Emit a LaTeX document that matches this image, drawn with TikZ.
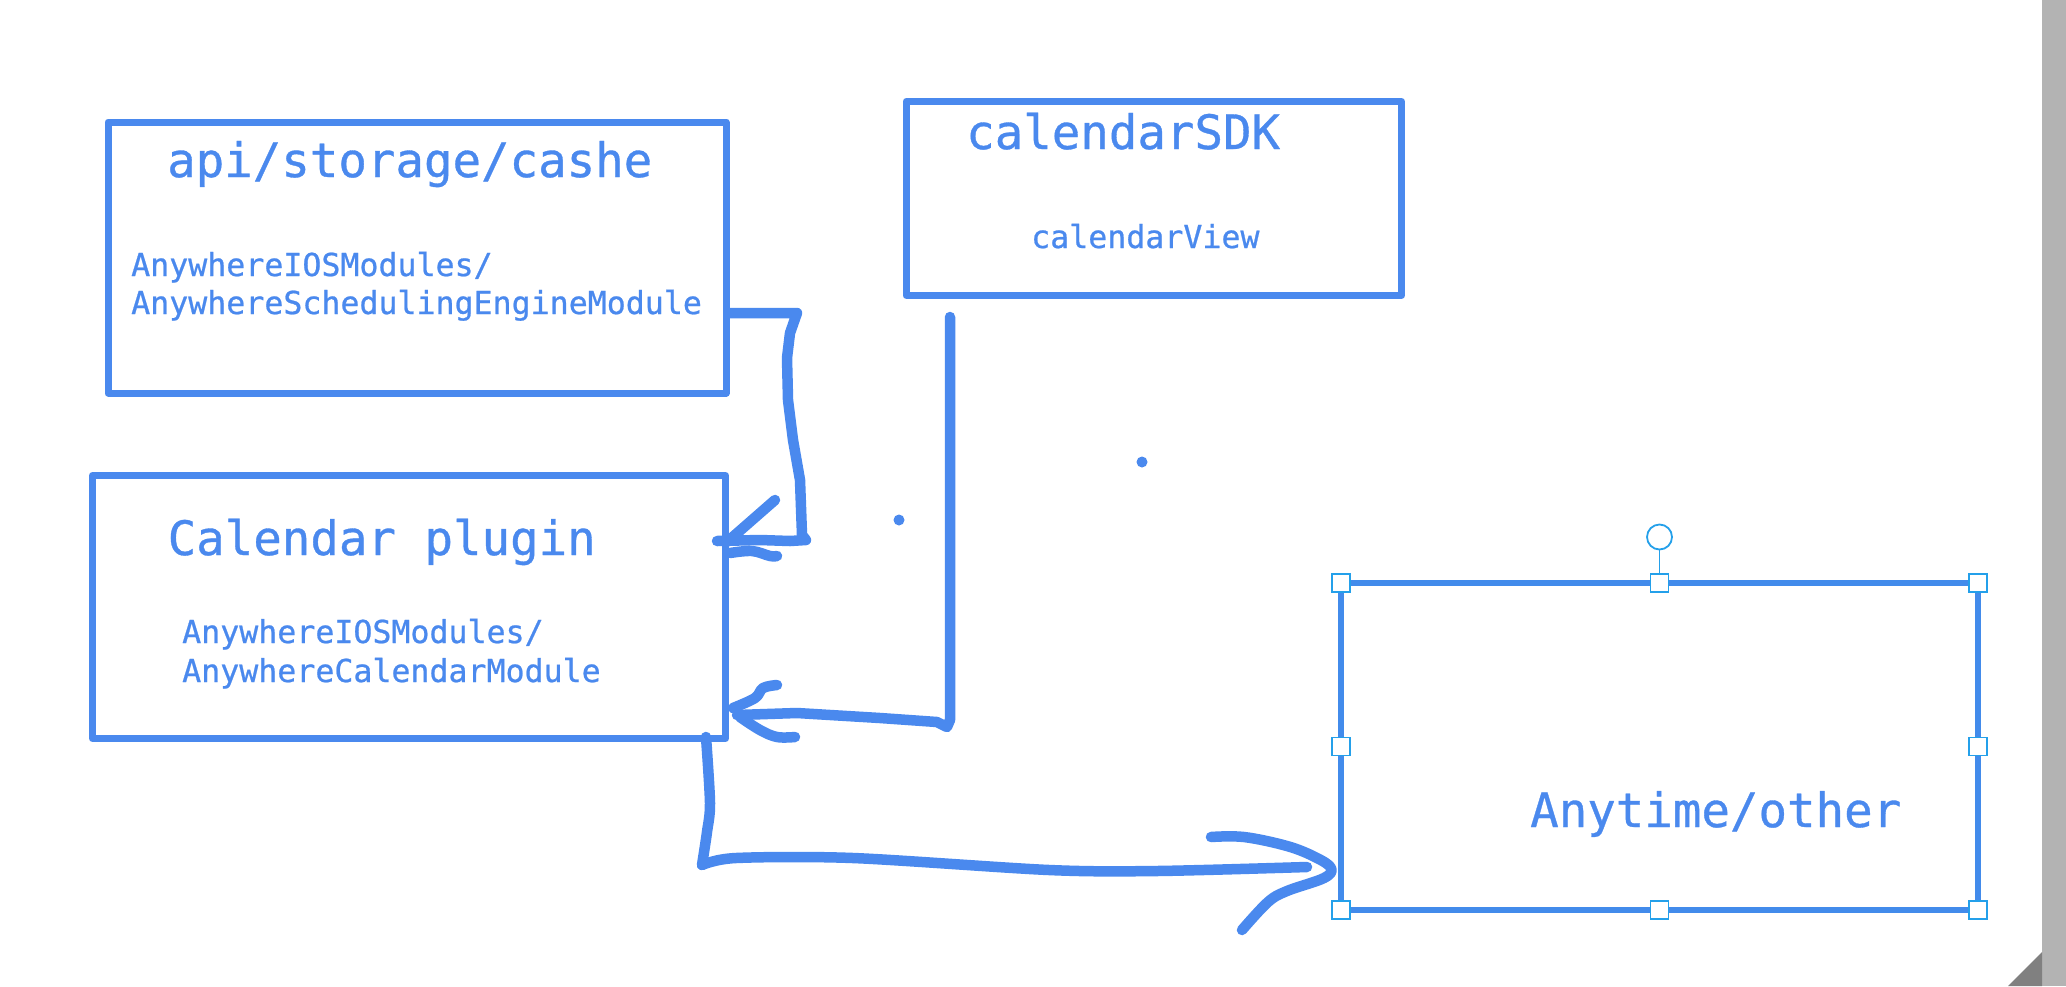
\documentclass[tikz,border=0pt]{standalone}
\usepackage{fontspec}
\newfontfamily\mono{DejaVu Sans Mono}[FakeBold=0.7]
\definecolor{inkblue}{HTML}{4A89EE}
\definecolor{boxblue}{HTML}{428BEB}
\definecolor{handle}{HTML}{24A0EA}
\definecolor{barg}{HTML}{B3B3B3}
\definecolor{darkg}{HTML}{808080}
\begin{document}
\begin{tikzpicture}[x=1pt,y=-1pt,
  box/.style={draw=inkblue,line width=7pt,inner sep=0pt,outer sep=0pt,line join=round,rectangle},
  title/.style={text=inkblue,inner sep=0pt,anchor=base west,font=\mono\fontsize{47.4}{50}\selectfont},
  sub/.style={text=inkblue,inner sep=0pt,anchor=base west,font=\mono\fontsize{31.6}{34}\selectfont},
  conn/.style={draw=inkblue,line width=10.5pt,line cap=round,line join=round},
  hnd/.style={draw=handle,fill=white,line width=1.8pt,minimum size=18pt,inner sep=0pt,rectangle}]
\useasboundingbox (0,0) rectangle (2066,986);
\fill[white] (0,0) rectangle (2066,986);
% gray bar at the right
\fill[barg] (2042,0) rectangle (2066,986);
\fill[darkg] (2008,986) -- (2042,952) -- (2042,986) -- cycle;

% boxes
\node[box,minimum width=618pt,minimum height=271pt] (b1) at (417,257.5) {};
\node[box,minimum width=633pt,minimum height=263pt] (b2) at (409,607) {};
\node[box,minimum width=495.5pt,minimum height=194pt] (b3) at (1153.75,198.4) {};
\node[draw=boxblue,line width=6.5pt,inner sep=0pt,outer sep=0pt,rectangle,minimum width=637pt,minimum height=327pt] (b4) at (1659.5,746.5) {};

% texts
\node[title] (t1) at (167,177) {api/storage/cashe};
\node[sub] (s1a) at (131,276) {AnywhereIOSModules/};
\node[sub] (s1b) at (131,314) {AnywhereSchedulingEngineModule};
\node[title] (t2) at (167.5,555) {Calendar plugin};
\node[sub] (s2a) at (182,643) {AnywhereIOSModules/};
\node[sub] (s2b) at (182,682) {AnywhereCalendarModule};
\node[title] (t3) at (966,149) {calendarSDK};
\node[sub] (s3) at (1031,248) {calendarView};
\node[title] (t4) at (1530,827) {Anytime/other};

% selection handles on the last box
\coordinate (rot) at (1659.5,537);
\draw[handle,line width=1.8pt] (rot) ++(0,12.5) -- (b4.north);
\draw[handle,line width=1.8pt,fill=white] (rot) circle (12.5);
\foreach \a/\n in {north west/h1,north/h2,north east/h3,west/h4,east/h5,south west/h6,south/h7,south east/h8}
  \node[hnd] (\n) at (b4.\a) {};

% connector 1: api box to Calendar plugin
\coordinate (c1s) at (729,313);
\coordinate (c1e) at (717,541);
\draw[conn] (c1s) -- (797,313) -- (790,333) -- (787,358) -- (788,400) -- (793,440) -- (800,480) -- (802,535) -- (806,540) -- (790,541) -- (760,540) -- (c1e);
\draw[conn] (775,500) -- (727,542);
\draw[conn] plot[smooth,tension=0.6] coordinates {(730,553) (752,551) (770,556) (777,556)};

% connector 2: calendarSDK to Calendar plugin
\coordinate (c2s) at (950,317);
\coordinate (c2e) at (737,715);
\draw[conn] (c2s) -- (950,720) -- (947,727) -- (937,722) -- (880,718) -- (797,713) -- (c2e);
\draw[conn] plot[smooth,tension=0.6] coordinates {(777,685) (763,688) (755,698) (733,708)};
\draw[conn] plot[smooth,tension=0.6] coordinates {(740,717) (760,730) (777,737) (795,737)};

% connector 3: Calendar plugin to Anytime/other
\coordinate (c3s) at (706,737);
\coordinate (c3e) at (1307,867);
\draw[conn] plot[smooth,tension=0.5] coordinates {(706,737) (710,803) (707,832) (702,865)};
\draw[conn] plot[smooth,tension=0.5] coordinates {(702,865) (736,858) (853,858) (1049,870) (1157,871) (c3e)};
\draw[conn] plot[smooth,tension=0.6] coordinates {(1211,837) (1244,837) (1287,846) (1315,857) (1331,868) (1324,878) (1287,891) (1268,902) (1242,930)};

% stray dots
\fill[inkblue] (899,520) circle (5.5);
\fill[inkblue] (1142,462) circle (5.5);
\end{tikzpicture}
\end{document}
